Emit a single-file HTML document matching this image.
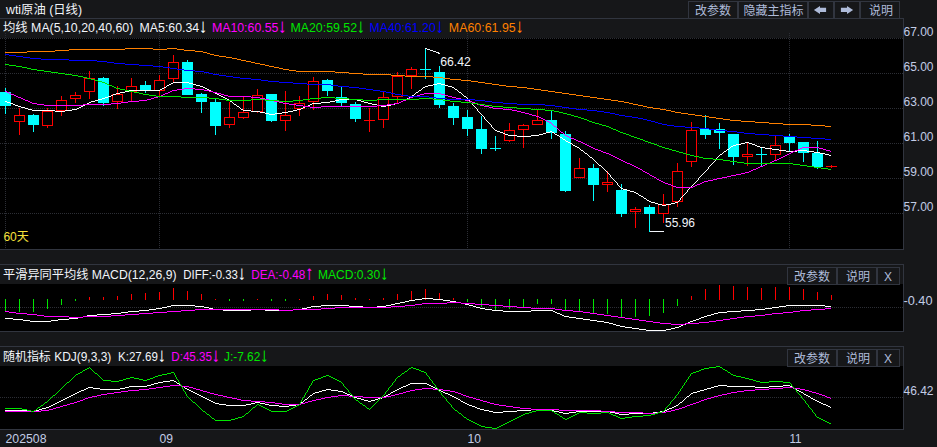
<!DOCTYPE html>
<html lang="zh-CN">
<head>
<meta charset="utf-8">
<title>wti原油 (日线)</title>
<style>
html,body{margin:0;padding:0;background:#161719;overflow:hidden;}
body{width:937px;height:447px;}
svg{display:block;position:absolute;left:0;top:0;}
text{white-space:pre;}
</style>
</head>
<body>
<svg width="937" height="447" viewBox="0 0 937 447" font-family="'Liberation Sans', 'Noto Sans CJK SC', sans-serif" shape-rendering="crispEdges">
<rect x="0" y="0" width="937" height="447" fill="#161719"/>
<rect x="0" y="38" width="903" height="211" fill="#000"/>
<rect x="0" y="284" width="903" height="47" fill="#000"/>
<rect x="0" y="366" width="903" height="63" fill="#000"/>
<rect x="0" y="18" width="904" height="1" fill="#31353f"/>
<rect x="903" y="18" width="1" height="232" fill="#31353f"/>
<rect x="0" y="249" width="904" height="1" fill="#31353f"/>
<rect x="0" y="264" width="904" height="1" fill="#31353f"/>
<rect x="903" y="264" width="1" height="68" fill="#31353f"/>
<rect x="0" y="331" width="904" height="1" fill="#31353f"/>
<rect x="0" y="346" width="904" height="1" fill="#31353f"/>
<rect x="903" y="346" width="1" height="84" fill="#31353f"/>
<rect x="0" y="429" width="904" height="1" fill="#31353f"/>
<path d="M0 38.5H903" stroke="#2c2e35" stroke-width="1" stroke-dasharray="1 1" fill="none"/>
<path d="M0 73.5H903" stroke="#2c2e35" stroke-width="1" stroke-dasharray="1 1" fill="none"/>
<path d="M0 108.5H903" stroke="#2c2e35" stroke-width="1" stroke-dasharray="1 1" fill="none"/>
<path d="M0 143.5H903" stroke="#2c2e35" stroke-width="1" stroke-dasharray="1 1" fill="none"/>
<path d="M0 178.5H903" stroke="#2c2e35" stroke-width="1" stroke-dasharray="1 1" fill="none"/>
<path d="M0 213.5H903" stroke="#2c2e35" stroke-width="1" stroke-dasharray="1 1" fill="none"/>
<path d="M0 307.5H903" stroke="#2c2e35" stroke-width="1" stroke-dasharray="1 1" fill="none"/>
<path d="M0 397.5H903" stroke="#2c2e35" stroke-width="1" stroke-dasharray="1 1" fill="none"/>
<path d="M5.5 33V249" stroke="#2c2e35" stroke-width="1" stroke-dasharray="1 1" fill="none"/>
<path d="M159.5 33V249" stroke="#2c2e35" stroke-width="1" stroke-dasharray="1 1" fill="none"/>
<path d="M467.5 33V249" stroke="#2c2e35" stroke-width="1" stroke-dasharray="1 1" fill="none"/>
<path d="M789.5 33V249" stroke="#2c2e35" stroke-width="1" stroke-dasharray="1 1" fill="none"/>
<rect x="5" y="88" width="1" height="26" fill="#00ffff"/>
<rect x="0" y="92" width="11" height="14" fill="#00ffff"/>
<rect x="19" y="108" width="1" height="7" fill="#ff0000"/>
<rect x="19" y="122" width="1" height="13" fill="#ff0000"/>
<rect x="14.5" y="115.5" width="10" height="6" fill="#000" stroke="#ff0000" stroke-width="1"/>
<rect x="33" y="114" width="1" height="18" fill="#00ffff"/>
<rect x="28" y="115" width="11" height="10" fill="#00ffff"/>
<rect x="47" y="108" width="1" height="3" fill="#ff0000"/>
<rect x="47" y="126" width="1" height="2" fill="#ff0000"/>
<rect x="42.5" y="111.5" width="10" height="14" fill="#000" stroke="#ff0000" stroke-width="1"/>
<rect x="61" y="96" width="1" height="4" fill="#ff0000"/>
<rect x="61" y="111" width="1" height="5" fill="#ff0000"/>
<rect x="56.5" y="100.5" width="10" height="10" fill="#000" stroke="#ff0000" stroke-width="1"/>
<rect x="75" y="92" width="1" height="3" fill="#ff0000"/>
<rect x="75" y="99" width="1" height="4" fill="#ff0000"/>
<rect x="70.5" y="95.5" width="10" height="3" fill="#000" stroke="#ff0000" stroke-width="1"/>
<rect x="89" y="71" width="1" height="7" fill="#ff0000"/>
<rect x="89" y="92" width="1" height="7" fill="#ff0000"/>
<rect x="84.5" y="78.5" width="10" height="13" fill="#000" stroke="#ff0000" stroke-width="1"/>
<rect x="103" y="77" width="1" height="29" fill="#00ffff"/>
<rect x="98" y="78" width="11" height="25" fill="#00ffff"/>
<rect x="117" y="86" width="1" height="8" fill="#ff0000"/>
<rect x="117" y="102" width="1" height="7" fill="#ff0000"/>
<rect x="112.5" y="94.5" width="10" height="7" fill="#000" stroke="#ff0000" stroke-width="1"/>
<rect x="131" y="78" width="1" height="8" fill="#ff0000"/>
<rect x="131" y="92" width="1" height="9" fill="#ff0000"/>
<rect x="126.5" y="86.5" width="10" height="5" fill="#000" stroke="#ff0000" stroke-width="1"/>
<rect x="145" y="81" width="1" height="12" fill="#00ffff"/>
<rect x="140" y="85" width="11" height="5" fill="#00ffff"/>
<rect x="159" y="75" width="1" height="5" fill="#ff0000"/>
<rect x="159" y="91" width="1" height="5" fill="#ff0000"/>
<rect x="154.5" y="80.5" width="10" height="10" fill="#000" stroke="#ff0000" stroke-width="1"/>
<rect x="173" y="55" width="1" height="7" fill="#ff0000"/>
<rect x="173" y="79" width="1" height="3" fill="#ff0000"/>
<rect x="168.5" y="62.5" width="10" height="16" fill="#000" stroke="#ff0000" stroke-width="1"/>
<rect x="187" y="60" width="1" height="35" fill="#00ffff"/>
<rect x="182" y="62" width="11" height="33" fill="#00ffff"/>
<rect x="201" y="93" width="1" height="20" fill="#00ffff"/>
<rect x="196" y="94" width="11" height="8" fill="#00ffff"/>
<rect x="215" y="99" width="1" height="36" fill="#00ffff"/>
<rect x="210" y="102" width="11" height="24" fill="#00ffff"/>
<rect x="229" y="102" width="1" height="15" fill="#ff0000"/>
<rect x="229" y="125" width="1" height="3" fill="#ff0000"/>
<rect x="224.5" y="117.5" width="10" height="7" fill="#000" stroke="#ff0000" stroke-width="1"/>
<rect x="243" y="97" width="1" height="15" fill="#ff0000"/>
<rect x="243" y="118" width="1" height="1" fill="#ff0000"/>
<rect x="238.5" y="112.5" width="10" height="5" fill="#000" stroke="#ff0000" stroke-width="1"/>
<rect x="257" y="89" width="1" height="6" fill="#ff0000"/>
<rect x="257" y="112" width="1" height="1" fill="#ff0000"/>
<rect x="252.5" y="95.5" width="10" height="16" fill="#000" stroke="#ff0000" stroke-width="1"/>
<rect x="271" y="94" width="1" height="28" fill="#00ffff"/>
<rect x="266" y="94" width="11" height="27" fill="#00ffff"/>
<rect x="285" y="91" width="1" height="24" fill="#ff0000"/>
<rect x="285" y="121" width="1" height="10" fill="#ff0000"/>
<rect x="280.5" y="115.5" width="10" height="5" fill="#000" stroke="#ff0000" stroke-width="1"/>
<rect x="299" y="96" width="1" height="7" fill="#ff0000"/>
<rect x="299" y="109" width="1" height="7" fill="#ff0000"/>
<rect x="294.5" y="103.5" width="10" height="5" fill="#000" stroke="#ff0000" stroke-width="1"/>
<rect x="313" y="77" width="1" height="4" fill="#ff0000"/>
<rect x="313" y="102" width="1" height="8" fill="#ff0000"/>
<rect x="308.5" y="81.5" width="10" height="20" fill="#000" stroke="#ff0000" stroke-width="1"/>
<rect x="327" y="79" width="1" height="17" fill="#00ffff"/>
<rect x="322" y="80" width="11" height="11" fill="#00ffff"/>
<rect x="341" y="87" width="1" height="19" fill="#00ffff"/>
<rect x="336" y="97" width="11" height="6" fill="#00ffff"/>
<rect x="355" y="102" width="1" height="20" fill="#00ffff"/>
<rect x="350" y="104" width="11" height="15" fill="#00ffff"/>
<rect x="369" y="108" width="1" height="24" fill="#ff0000"/>
<rect x="364" y="120" width="11" height="1" fill="#ff0000"/>
<rect x="383" y="92" width="1" height="5" fill="#ff0000"/>
<rect x="383" y="120" width="1" height="8" fill="#ff0000"/>
<rect x="378.5" y="97.5" width="10" height="22" fill="#000" stroke="#ff0000" stroke-width="1"/>
<rect x="397" y="72" width="1" height="4" fill="#ff0000"/>
<rect x="397" y="97" width="1" height="6" fill="#ff0000"/>
<rect x="392.5" y="76.5" width="10" height="20" fill="#000" stroke="#ff0000" stroke-width="1"/>
<rect x="411" y="67" width="1" height="2" fill="#ff0000"/>
<rect x="411" y="76" width="1" height="13" fill="#ff0000"/>
<rect x="406.5" y="69.5" width="10" height="6" fill="#000" stroke="#ff0000" stroke-width="1"/>
<rect x="425" y="48" width="1" height="31" fill="#00ffff"/>
<rect x="420" y="69" width="11" height="1" fill="#00ffff"/>
<rect x="439" y="66" width="1" height="42" fill="#00ffff"/>
<rect x="434" y="72" width="11" height="33" fill="#00ffff"/>
<rect x="453" y="103" width="1" height="22" fill="#00ffff"/>
<rect x="448" y="106" width="11" height="12" fill="#00ffff"/>
<rect x="467" y="110" width="1" height="26" fill="#00ffff"/>
<rect x="462" y="117" width="11" height="12" fill="#00ffff"/>
<rect x="481" y="116" width="1" height="38" fill="#00ffff"/>
<rect x="476" y="129" width="11" height="20" fill="#00ffff"/>
<rect x="495" y="136" width="1" height="15" fill="#00ffff"/>
<rect x="490" y="148" width="11" height="1" fill="#00ffff"/>
<rect x="509" y="123" width="1" height="7" fill="#ff0000"/>
<rect x="509" y="141" width="1" height="1" fill="#ff0000"/>
<rect x="504.5" y="130.5" width="10" height="10" fill="#000" stroke="#ff0000" stroke-width="1"/>
<rect x="523" y="124" width="1" height="1" fill="#ff0000"/>
<rect x="523" y="130" width="1" height="18" fill="#ff0000"/>
<rect x="518.5" y="125.5" width="10" height="4" fill="#000" stroke="#ff0000" stroke-width="1"/>
<rect x="537" y="110" width="1" height="10" fill="#ff0000"/>
<rect x="532.5" y="120.5" width="10" height="4" fill="#000" stroke="#ff0000" stroke-width="1"/>
<rect x="551" y="111" width="1" height="28" fill="#00ffff"/>
<rect x="546" y="120" width="11" height="13" fill="#00ffff"/>
<rect x="565" y="131" width="1" height="61" fill="#00ffff"/>
<rect x="560" y="134" width="11" height="57" fill="#00ffff"/>
<rect x="579" y="158" width="1" height="10" fill="#ff0000"/>
<rect x="574.5" y="168.5" width="10" height="9" fill="#000" stroke="#ff0000" stroke-width="1"/>
<rect x="593" y="164" width="1" height="37" fill="#00ffff"/>
<rect x="588" y="168" width="11" height="17" fill="#00ffff"/>
<rect x="607" y="171" width="1" height="11" fill="#ff0000"/>
<rect x="607" y="185" width="1" height="7" fill="#ff0000"/>
<rect x="602.5" y="182.5" width="10" height="2" fill="#000" stroke="#ff0000" stroke-width="1"/>
<rect x="621" y="184" width="1" height="33" fill="#00ffff"/>
<rect x="616" y="190" width="11" height="24" fill="#00ffff"/>
<rect x="635" y="207" width="1" height="2" fill="#ff0000"/>
<rect x="635" y="212" width="1" height="16" fill="#ff0000"/>
<rect x="630.5" y="209.5" width="10" height="2" fill="#000" stroke="#ff0000" stroke-width="1"/>
<rect x="649" y="205" width="1" height="27" fill="#00ffff"/>
<rect x="644" y="207" width="11" height="7" fill="#00ffff"/>
<rect x="663" y="194" width="1" height="10" fill="#ff0000"/>
<rect x="663" y="214" width="1" height="9" fill="#ff0000"/>
<rect x="658.5" y="204.5" width="10" height="9" fill="#000" stroke="#ff0000" stroke-width="1"/>
<rect x="677" y="163" width="1" height="8" fill="#ff0000"/>
<rect x="677" y="202" width="1" height="5" fill="#ff0000"/>
<rect x="672.5" y="171.5" width="10" height="30" fill="#000" stroke="#ff0000" stroke-width="1"/>
<rect x="691" y="122" width="1" height="8" fill="#ff0000"/>
<rect x="691" y="162" width="1" height="5" fill="#ff0000"/>
<rect x="686.5" y="130.5" width="10" height="31" fill="#000" stroke="#ff0000" stroke-width="1"/>
<rect x="705" y="115" width="1" height="24" fill="#00ffff"/>
<rect x="700" y="129" width="11" height="6" fill="#00ffff"/>
<rect x="719" y="123" width="1" height="26" fill="#00ffff"/>
<rect x="714" y="129" width="11" height="4" fill="#00ffff"/>
<rect x="733" y="134" width="1" height="31" fill="#00ffff"/>
<rect x="728" y="134" width="11" height="23" fill="#00ffff"/>
<rect x="747" y="143" width="1" height="11" fill="#ff0000"/>
<rect x="747" y="157" width="1" height="9" fill="#ff0000"/>
<rect x="742.5" y="154.5" width="10" height="2" fill="#000" stroke="#ff0000" stroke-width="1"/>
<rect x="761" y="148" width="1" height="18" fill="#00ffff"/>
<rect x="756" y="154" width="11" height="1" fill="#00ffff"/>
<rect x="775" y="136" width="1" height="9" fill="#ff0000"/>
<rect x="775" y="155" width="1" height="5" fill="#ff0000"/>
<rect x="770.5" y="145.5" width="10" height="9" fill="#000" stroke="#ff0000" stroke-width="1"/>
<rect x="789" y="134" width="1" height="18" fill="#00ffff"/>
<rect x="784" y="136" width="11" height="7" fill="#00ffff"/>
<rect x="803" y="142" width="1" height="20" fill="#00ffff"/>
<rect x="798" y="142" width="11" height="11" fill="#00ffff"/>
<rect x="817" y="141" width="1" height="28" fill="#00ffff"/>
<rect x="812" y="153" width="11" height="14" fill="#00ffff"/>
<rect x="831" y="165" width="1" height="3" fill="#ff0000"/>
<rect x="826" y="166" width="11" height="1" fill="#ff0000"/>
<g shape-rendering="crispEdges">
<path d="M173 82h16v1h-16zM171 83h2v1h-2zM189 83h4v1h-4zM437 83h4v1h-4zM169 84h2v1h-2zM193 84h3v1h-3zM433 84h4v1h-4zM441 84h4v1h-4zM167 85h2v1h-2zM196 85h4v1h-4zM428 85h5v1h-5zM445 85h3v1h-3zM200 86h3v1h-3zM425 86h3v1h-3zM448 86h4v1h-4zM164 87h2v1h-2zM203 87h2v1h-2zM423 87h2v1h-2zM452 87h2v1h-2zM162 88h2v1h-2zM205 88h2v1h-2zM160 89h2v1h-2zM207 89h2v1h-2zM455 89h2v1h-2zM129 90h31v1h-31zM209 90h2v1h-2zM419 90h2v1h-2zM125 91h4v1h-4zM211 91h2v1h-2zM120 92h5v1h-5zM213 92h2v1h-2zM416 92h2v1h-2zM459 92h2v1h-2zM116 93h4v1h-4zM215 93h2v1h-2zM113 94h3v1h-3zM217 94h2v1h-2zM111 95h2v1h-2zM219 95h2v1h-2zM412 95h2v1h-2zM108 96h3v1h-3zM221 96h2v1h-2zM464 96h2v1h-2zM105 97h3v1h-3zM223 97h2v1h-2zM409 97h2v1h-2zM102 98h3v1h-3zM225 98h2v1h-2zM407 98h2v1h-2zM98 99h4v1h-4zM227 99h2v1h-2zM339 99h18v1h-18zM405 99h2v1h-2zM95 100h3v1h-3zM335 100h4v1h-4zM357 100h4v1h-4zM403 100h2v1h-2zM5 101h2v1h-2zM91 101h4v1h-4zM230 101h2v1h-2zM330 101h5v1h-5zM361 101h3v1h-3zM401 101h2v1h-2zM7 102h3v1h-3zM89 102h2v1h-2zM321 102h9v1h-9zM364 102h4v1h-4zM399 102h2v1h-2zM10 103h3v1h-3zM87 103h2v1h-2zM312 103h9v1h-9zM368 103h4v1h-4zM395 103h4v1h-4zM13 104h2v1h-2zM85 104h2v1h-2zM234 104h2v1h-2zM310 104h2v1h-2zM372 104h5v1h-5zM391 104h4v1h-4zM15 105h3v1h-3zM83 105h2v1h-2zM308 105h2v1h-2zM377 105h4v1h-4zM386 105h5v1h-5zM18 106h3v1h-3zM81 106h2v1h-2zM237 106h2v1h-2zM305 106h3v1h-3zM381 106h5v1h-5zM21 107h4v1h-4zM79 107h2v1h-2zM303 107h2v1h-2zM25 108h3v1h-3zM77 108h2v1h-2zM301 108h2v1h-2zM28 109h4v1h-4zM72 109h5v1h-5zM241 109h2v1h-2zM297 109h4v1h-4zM32 110h23v1h-23zM65 110h7v1h-7zM243 110h8v1h-8zM293 110h4v1h-4zM55 111h10v1h-10zM251 111h9v1h-9zM288 111h5v1h-5zM260 112h5v1h-5zM282 112h6v1h-6zM265 113h4v1h-4zM275 113h7v1h-7zM269 114h6v1h-6zM495 130h2v1h-2zM497 131h3v1h-3zM550 131h2v1h-2zM500 132h3v1h-3zM546 132h4v1h-4zM552 132h2v1h-2zM503 133h2v1h-2zM543 133h3v1h-3zM505 134h3v1h-3zM539 134h4v1h-4zM555 134h2v1h-2zM508 135h9v1h-9zM531 135h8v1h-8zM557 135h2v1h-2zM517 136h14v1h-14zM560 137h2v1h-2zM563 139h2v1h-2zM566 141h2v1h-2zM568 142h2v1h-2zM745 142h4v1h-4zM570 143h2v1h-2zM741 143h4v1h-4zM749 143h3v1h-3zM736 144h5v1h-5zM752 144h3v1h-3zM573 145h2v1h-2zM733 145h3v1h-3zM755 145h2v1h-2zM575 146h2v1h-2zM731 146h2v1h-2zM757 146h3v1h-3zM577 147h2v1h-2zM760 147h5v1h-5zM765 148h7v1h-7zM727 149h2v1h-2zM772 149h7v1h-7zM581 150h2v1h-2zM779 150h7v1h-7zM797 150h10v1h-10zM724 151h2v1h-2zM786 151h11v1h-11zM807 151h7v1h-7zM814 152h6v1h-6zM585 153h2v1h-2zM820 153h5v1h-5zM720 154h2v1h-2zM825 154h4v1h-4zM829 155h2v1h-2zM590 157h2v1h-2zM599 165h2v1h-2zM621 188h2v1h-2zM623 189h4v1h-4zM627 190h3v1h-3zM630 191h4v1h-4zM634 192h2v1h-2zM636 193h2v1h-2zM639 195h2v1h-2zM641 196h2v1h-2zM644 198h2v1h-2zM647 200h2v1h-2zM649 201h2v1h-2zM651 202h4v1h-4zM675 202h3v1h-3zM655 203h3v1h-3zM671 203h4v1h-4zM658 204h4v1h-4zM666 204h5v1h-5zM662 205h4v1h-4zM166 86h1v1h-1zM229 100h1v1h-1zM232 102h1v1h-1zM233 103h1v1h-1zM236 105h1v1h-1zM239 107h1v1h-1zM240 108h1v1h-1zM411 96h1v1h-1zM414 94h1v1h-1zM415 93h1v1h-1zM418 91h1v1h-1zM421 89h1v1h-1zM422 88h1v1h-1zM454 88h1v1h-1zM457 90h1v1h-1zM458 91h1v1h-1zM461 93h1v1h-1zM462 94h1v1h-1zM463 95h1v1h-1zM466 97h1v1h-1zM467 98h1v1h-1zM468 99h1v1h-1zM469 100h1v1h-1zM470 101h1v2h-1zM471 103h1v1h-1zM472 104h1v1h-1zM473 105h1v1h-1zM474 106h1v1h-1zM475 107h1v1h-1zM476 108h1v1h-1zM477 109h1v2h-1zM478 111h1v1h-1zM479 112h1v1h-1zM480 113h1v1h-1zM481 114h1v1h-1zM482 115h1v1h-1zM483 116h1v1h-1zM484 117h1v2h-1zM485 119h1v1h-1zM486 120h1v1h-1zM487 121h1v1h-1zM488 122h1v1h-1zM489 123h1v1h-1zM490 124h1v1h-1zM491 125h1v2h-1zM492 127h1v1h-1zM493 128h1v1h-1zM494 129h1v1h-1zM554 133h1v1h-1zM559 136h1v1h-1zM562 138h1v1h-1zM565 140h1v1h-1zM572 144h1v1h-1zM579 148h1v1h-1zM580 149h1v1h-1zM583 151h1v1h-1zM584 152h1v1h-1zM587 154h1v1h-1zM588 155h1v1h-1zM589 156h1v1h-1zM592 158h1v1h-1zM593 159h1v1h-1zM594 160h1v1h-1zM595 161h1v1h-1zM596 162h1v1h-1zM597 163h1v1h-1zM598 164h1v1h-1zM601 166h1v1h-1zM602 167h1v1h-1zM603 168h1v1h-1zM604 169h1v1h-1zM605 170h1v1h-1zM606 171h1v1h-1zM607 172h1v1h-1zM608 173h1v1h-1zM609 174h1v1h-1zM610 175h1v2h-1zM611 177h1v1h-1zM612 178h1v1h-1zM613 179h1v1h-1zM614 180h1v1h-1zM615 181h1v1h-1zM616 182h1v1h-1zM617 183h1v2h-1zM618 185h1v1h-1zM619 186h1v1h-1zM620 187h1v1h-1zM638 194h1v1h-1zM643 197h1v1h-1zM646 199h1v1h-1zM678 201h1v1h-1zM679 200h1v1h-1zM680 198h1v2h-1zM681 197h1v1h-1zM682 196h1v1h-1zM683 195h1v1h-1zM684 194h1v1h-1zM685 193h1v1h-1zM686 192h1v1h-1zM687 190h1v2h-1zM688 189h1v1h-1zM689 188h1v1h-1zM690 187h1v1h-1zM691 186h1v1h-1zM692 185h1v1h-1zM693 184h1v1h-1zM694 183h1v1h-1zM695 182h1v1h-1zM696 181h1v1h-1zM697 180h1v1h-1zM698 178h1v2h-1zM699 177h1v1h-1zM700 176h1v1h-1zM701 175h1v1h-1zM702 174h1v1h-1zM703 173h1v1h-1zM704 172h1v1h-1zM705 171h1v1h-1zM706 170h1v1h-1zM707 169h1v1h-1zM708 167h1v2h-1zM709 166h1v1h-1zM710 165h1v1h-1zM711 164h1v1h-1zM712 163h1v1h-1zM713 162h1v1h-1zM714 161h1v1h-1zM715 159h1v2h-1zM716 158h1v1h-1zM717 157h1v1h-1zM718 156h1v1h-1zM719 155h1v1h-1zM722 153h1v1h-1zM723 152h1v1h-1zM726 150h1v1h-1zM729 148h1v1h-1zM730 147h1v1h-1z" fill="#ffffff"/>
<path d="M184 88h11v1h-11zM177 89h7v1h-7zM195 89h9v1h-9zM172 90h5v1h-5zM204 90h5v1h-5zM5 91h2v1h-2zM170 91h2v1h-2zM209 91h4v1h-4zM7 92h2v1h-2zM168 92h2v1h-2zM213 92h4v1h-4zM9 93h2v1h-2zM165 93h3v1h-3zM217 93h4v1h-4zM424 93h17v1h-17zM11 94h3v1h-3zM163 94h2v1h-2zM221 94h3v1h-3zM420 94h4v1h-4zM441 94h4v1h-4zM14 95h2v1h-2zM161 95h2v1h-2zM224 95h4v1h-4zM417 95h3v1h-3zM445 95h3v1h-3zM16 96h2v1h-2zM158 96h3v1h-3zM228 96h23v1h-23zM413 96h4v1h-4zM448 96h4v1h-4zM18 97h3v1h-3zM154 97h4v1h-4zM251 97h9v1h-9zM410 97h3v1h-3zM452 97h4v1h-4zM21 98h2v1h-2zM151 98h3v1h-3zM260 98h5v1h-5zM408 98h2v1h-2zM456 98h5v1h-5zM23 99h2v1h-2zM147 99h4v1h-4zM265 99h4v1h-4zM406 99h2v1h-2zM461 99h4v1h-4zM25 100h3v1h-3zM139 100h8v1h-8zM269 100h5v1h-5zM403 100h3v1h-3zM465 100h4v1h-4zM28 101h2v1h-2zM128 101h11v1h-11zM274 101h5v1h-5zM401 101h2v1h-2zM469 101h3v1h-3zM30 102h2v1h-2zM121 102h7v1h-7zM279 102h4v1h-4zM399 102h2v1h-2zM472 102h3v1h-3zM32 103h5v1h-5zM111 103h10v1h-10zM283 103h6v1h-6zM394 103h5v1h-5zM475 103h2v1h-2zM37 104h7v1h-7zM83 104h28v1h-28zM289 104h7v1h-7zM387 104h7v1h-7zM477 104h3v1h-3zM44 105h39v1h-39zM296 105h7v1h-7zM377 105h10v1h-10zM480 105h4v1h-4zM303 106h7v1h-7zM321 106h56v1h-56zM484 106h5v1h-5zM310 107h11v1h-11zM489 107h4v1h-4zM493 108h10v1h-10zM503 109h9v1h-9zM512 110h5v1h-5zM517 111h4v1h-4zM521 112h4v1h-4zM525 113h4v1h-4zM529 114h3v1h-3zM532 115h4v1h-4zM536 116h3v1h-3zM539 117h2v1h-2zM541 118h2v1h-2zM543 119h2v1h-2zM545 120h2v1h-2zM547 121h2v1h-2zM549 122h2v1h-2zM554 126h2v1h-2zM561 132h2v1h-2zM565 135h2v1h-2zM567 136h2v1h-2zM569 137h2v1h-2zM571 138h3v1h-3zM574 139h2v1h-2zM576 140h2v1h-2zM578 141h3v1h-3zM581 142h2v1h-2zM583 143h2v1h-2zM585 144h2v1h-2zM587 145h2v1h-2zM589 146h2v1h-2zM591 147h2v1h-2zM802 147h17v1h-17zM593 148h2v1h-2zM800 148h2v1h-2zM819 148h4v1h-4zM595 149h3v1h-3zM798 149h2v1h-2zM823 149h3v1h-3zM598 150h3v1h-3zM795 150h3v1h-3zM826 150h4v1h-4zM601 151h2v1h-2zM793 151h2v1h-2zM603 152h3v1h-3zM791 152h2v1h-2zM606 153h3v1h-3zM789 153h2v1h-2zM609 154h2v1h-2zM787 154h2v1h-2zM611 155h2v1h-2zM785 155h2v1h-2zM613 156h2v1h-2zM783 156h2v1h-2zM615 157h2v1h-2zM781 157h2v1h-2zM617 158h2v1h-2zM779 158h2v1h-2zM619 159h2v1h-2zM777 159h2v1h-2zM621 160h2v1h-2zM774 160h3v1h-3zM623 161h2v1h-2zM772 161h2v1h-2zM625 162h2v1h-2zM770 162h2v1h-2zM627 163h3v1h-3zM767 163h3v1h-3zM630 164h2v1h-2zM765 164h2v1h-2zM632 165h2v1h-2zM763 165h2v1h-2zM634 166h2v1h-2zM760 166h3v1h-3zM636 167h2v1h-2zM758 167h2v1h-2zM638 168h2v1h-2zM756 168h2v1h-2zM640 169h2v1h-2zM753 169h3v1h-3zM751 170h2v1h-2zM643 171h2v1h-2zM749 171h2v1h-2zM645 172h2v1h-2zM745 172h4v1h-4zM647 173h2v1h-2zM741 173h4v1h-4zM736 174h5v1h-5zM650 175h2v1h-2zM731 175h5v1h-5zM652 176h2v1h-2zM727 176h4v1h-4zM654 177h2v1h-2zM722 177h5v1h-5zM717 178h5v1h-5zM657 179h2v1h-2zM713 179h4v1h-4zM659 180h2v1h-2zM708 180h5v1h-5zM661 181h2v1h-2zM704 181h4v1h-4zM663 182h2v1h-2zM702 182h2v1h-2zM665 183h3v1h-3zM700 183h2v1h-2zM668 184h3v1h-3zM697 184h3v1h-3zM671 185h2v1h-2zM695 185h2v1h-2zM673 186h3v1h-3zM693 186h2v1h-2zM676 187h17v1h-17zM551 123h1v1h-1zM552 124h1v1h-1zM553 125h1v1h-1zM556 127h1v1h-1zM557 128h1v1h-1zM558 129h1v1h-1zM559 130h1v1h-1zM560 131h1v1h-1zM563 133h1v1h-1zM564 134h1v1h-1zM642 170h1v1h-1zM649 174h1v1h-1zM656 178h1v1h-1zM830 151h1v1h-1z" fill="#ff00ff"/>
<path d="M5 64h4v1h-4zM9 65h7v1h-7zM16 66h6v1h-6zM22 67h5v1h-5zM27 68h4v1h-4zM31 69h6v1h-6zM37 70h7v1h-7zM44 71h7v1h-7zM51 72h7v1h-7zM58 73h7v1h-7zM65 74h7v1h-7zM72 75h6v1h-6zM78 76h5v1h-5zM83 77h4v1h-4zM87 78h4v1h-4zM91 79h4v1h-4zM95 80h3v1h-3zM98 81h4v1h-4zM102 82h3v1h-3zM105 83h2v1h-2zM107 84h2v1h-2zM109 85h3v1h-3zM112 86h2v1h-2zM114 87h2v1h-2zM116 88h4v1h-4zM120 89h5v1h-5zM125 90h4v1h-4zM129 91h5v1h-5zM134 92h5v1h-5zM139 93h4v1h-4zM143 94h6v1h-6zM149 95h7v1h-7zM156 96h25v1h-25zM181 97h28v1h-28zM321 97h14v1h-14zM209 98h10v1h-10zM310 98h11v1h-11zM335 98h14v1h-14zM419 98h14v1h-14zM219 99h7v1h-7zM251 99h14v1h-14zM303 99h7v1h-7zM349 99h14v1h-14zM377 99h42v1h-42zM433 99h10v1h-10zM226 100h25v1h-25zM265 100h14v1h-14zM293 100h10v1h-10zM363 100h14v1h-14zM443 100h7v1h-7zM279 101h14v1h-14zM450 101h11v1h-11zM461 102h10v1h-10zM471 103h7v1h-7zM478 104h7v1h-7zM485 105h7v1h-7zM492 106h11v1h-11zM503 107h14v1h-14zM517 108h14v1h-14zM531 109h14v1h-14zM545 110h9v1h-9zM554 111h5v1h-5zM559 112h4v1h-4zM563 113h4v1h-4zM567 114h4v1h-4zM571 115h3v1h-3zM574 116h4v1h-4zM578 117h3v1h-3zM581 118h3v1h-3zM584 119h3v1h-3zM587 120h2v1h-2zM589 121h3v1h-3zM592 122h3v1h-3zM595 123h4v1h-4zM599 124h3v1h-3zM602 125h4v1h-4zM606 126h3v1h-3zM609 127h2v1h-2zM611 128h2v1h-2zM613 129h3v1h-3zM616 130h2v1h-2zM618 131h2v1h-2zM620 132h3v1h-3zM623 133h3v1h-3zM626 134h3v1h-3zM629 135h2v1h-2zM631 136h3v1h-3zM634 137h3v1h-3zM637 138h3v1h-3zM640 139h3v1h-3zM643 140h2v1h-2zM645 141h3v1h-3zM648 142h3v1h-3zM651 143h3v1h-3zM654 144h3v1h-3zM657 145h2v1h-2zM659 146h3v1h-3zM662 147h3v1h-3zM665 148h4v1h-4zM669 149h3v1h-3zM672 150h4v1h-4zM676 151h3v1h-3zM679 152h4v1h-4zM683 153h3v1h-3zM686 154h4v1h-4zM690 155h4v1h-4zM694 156h5v1h-5zM699 157h4v1h-4zM703 158h10v1h-10zM713 159h10v1h-10zM723 160h7v1h-7zM730 161h7v1h-7zM737 162h7v1h-7zM744 163h49v1h-49zM793 164h7v1h-7zM800 165h7v1h-7zM807 166h7v1h-7zM814 167h7v1h-7zM821 168h7v1h-7zM828 169h3v1h-3z" fill="#00e600"/>
<path d="M5 54h4v1h-4zM9 55h7v1h-7zM16 56h7v1h-7zM23 57h7v1h-7zM30 58h11v1h-11zM41 59h28v1h-28zM69 60h28v1h-28zM97 61h10v1h-10zM107 62h7v1h-7zM114 63h11v1h-11zM125 64h14v1h-14zM139 65h14v1h-14zM153 66h10v1h-10zM163 67h7v1h-7zM170 68h7v1h-7zM177 69h7v1h-7zM184 70h11v1h-11zM195 71h9v1h-9zM204 72h5v1h-5zM209 73h4v1h-4zM213 74h6v1h-6zM219 75h7v1h-7zM226 76h7v1h-7zM233 77h7v1h-7zM240 78h11v1h-11zM251 79h10v1h-10zM261 80h7v1h-7zM268 81h11v1h-11zM279 82h14v1h-14zM293 83h14v1h-14zM307 84h24v1h-24zM331 85h7v1h-7zM338 86h11v1h-11zM349 87h10v1h-10zM359 88h7v1h-7zM366 89h7v1h-7zM373 90h7v1h-7zM380 91h6v1h-6zM386 92h5v1h-5zM391 93h4v1h-4zM395 94h6v1h-6zM401 95h7v1h-7zM408 96h21v1h-21zM429 97h7v1h-7zM436 98h11v1h-11zM447 99h28v1h-28zM475 100h10v1h-10zM485 101h7v1h-7zM492 102h11v1h-11zM503 103h14v1h-14zM517 104h28v1h-28zM545 105h10v1h-10zM555 106h7v1h-7zM562 107h7v1h-7zM569 108h7v1h-7zM576 109h11v1h-11zM587 110h10v1h-10zM597 111h7v1h-7zM604 112h6v1h-6zM610 113h5v1h-5zM615 114h4v1h-4zM619 115h6v1h-6zM625 116h7v1h-7zM632 117h6v1h-6zM638 118h5v1h-5zM643 119h4v1h-4zM647 120h4v1h-4zM651 121h4v1h-4zM655 122h3v1h-3zM658 123h4v1h-4zM662 124h5v1h-5zM667 125h7v1h-7zM674 126h11v1h-11zM685 127h14v1h-14zM699 128h10v1h-10zM709 129h7v1h-7zM716 130h11v1h-11zM727 131h10v1h-10zM737 132h7v1h-7zM744 133h11v1h-11zM755 134h14v1h-14zM769 135h14v1h-14zM783 136h14v1h-14zM797 137h14v1h-14zM811 138h14v1h-14zM825 139h6v1h-6z" fill="#0000ff"/>
<path d="M125 48h28v1h-28zM167 48h10v1h-10zM69 49h56v1h-56zM153 49h14v1h-14zM177 49h7v1h-7zM55 50h14v1h-14zM184 50h11v1h-11zM27 51h28v1h-28zM195 51h8v1h-8zM5 52h22v1h-22zM203 52h4v1h-4zM207 53h3v1h-3zM210 54h4v1h-4zM214 55h5v1h-5zM219 56h7v1h-7zM226 57h6v1h-6zM232 58h5v1h-5zM237 59h4v1h-4zM241 60h5v1h-5zM246 61h5v1h-5zM251 62h4v1h-4zM255 63h5v1h-5zM260 64h5v1h-5zM265 65h4v1h-4zM269 66h5v1h-5zM274 67h5v1h-5zM279 68h4v1h-4zM283 69h6v1h-6zM289 70h7v1h-7zM296 71h39v1h-39zM335 72h14v1h-14zM349 73h14v1h-14zM363 74h28v1h-28zM391 75h14v1h-14zM405 76h28v1h-28zM433 77h10v1h-10zM443 78h7v1h-7zM450 79h11v1h-11zM461 80h10v1h-10zM471 81h7v1h-7zM478 82h7v1h-7zM485 83h7v1h-7zM492 84h7v1h-7zM499 85h7v1h-7zM506 86h11v1h-11zM517 87h10v1h-10zM527 88h7v1h-7zM534 89h7v1h-7zM541 90h7v1h-7zM548 91h7v1h-7zM555 92h7v1h-7zM562 93h7v1h-7zM569 94h7v1h-7zM576 95h7v1h-7zM583 96h7v1h-7zM590 97h7v1h-7zM597 98h7v1h-7zM604 99h7v1h-7zM611 100h7v1h-7zM618 101h6v1h-6zM624 102h5v1h-5zM629 103h4v1h-4zM633 104h5v1h-5zM638 105h5v1h-5zM643 106h4v1h-4zM647 107h6v1h-6zM653 108h7v1h-7zM660 109h6v1h-6zM666 110h5v1h-5zM671 111h4v1h-4zM675 112h6v1h-6zM681 113h7v1h-7zM688 114h7v1h-7zM695 115h7v1h-7zM702 116h7v1h-7zM709 117h7v1h-7zM716 118h7v1h-7zM723 119h7v1h-7zM730 120h11v1h-11zM741 121h14v1h-14zM755 122h14v1h-14zM769 123h14v1h-14zM783 124h28v1h-28zM811 125h14v1h-14zM825 126h6v1h-6z" fill="#ff8000"/>
</g>
<path d="M425.5 48.5L440 53.5" stroke="#f2f5fa" stroke-width="1" fill="none"/>
<text x="440.2" y="66" fill="#f2f5fa" font-size="12" textLength="30.6" lengthAdjust="spacingAndGlyphs">66.42</text>
<path d="M649.5 231.5H664" stroke="#f2f5fa" stroke-width="1" fill="none"/>
<text x="665" y="227" fill="#f2f5fa" font-size="12" textLength="30" lengthAdjust="spacingAndGlyphs">55.96</text>
<text x="3.4" y="240.6" fill="#f8e23c" font-size="12" textLength="25.5" lengthAdjust="spacingAndGlyphs">60天</text>
<rect x="5" y="299" width="1" height="13" fill="#00e600"/>
<rect x="19" y="299" width="1" height="13" fill="#00e600"/>
<rect x="33" y="299" width="1" height="13" fill="#00e600"/>
<rect x="47" y="299" width="1" height="10" fill="#00e600"/>
<rect x="61" y="299" width="1" height="6" fill="#00e600"/>
<rect x="75" y="299" width="1" height="2" fill="#00e600"/>
<rect x="89" y="297" width="1" height="3" fill="#ff0000"/>
<rect x="103" y="297" width="1" height="3" fill="#ff0000"/>
<rect x="117" y="296" width="1" height="4" fill="#ff0000"/>
<rect x="131" y="294" width="1" height="6" fill="#ff0000"/>
<rect x="145" y="293" width="1" height="7" fill="#ff0000"/>
<rect x="159" y="292" width="1" height="8" fill="#ff0000"/>
<rect x="173" y="288" width="1" height="12" fill="#ff0000"/>
<rect x="187" y="291" width="1" height="9" fill="#ff0000"/>
<rect x="201" y="294" width="1" height="6" fill="#ff0000"/>
<rect x="215" y="299" width="1" height="1" fill="#ff0000"/>
<rect x="229" y="299" width="1" height="2" fill="#00e600"/>
<rect x="243" y="299" width="1" height="2" fill="#00e600"/>
<rect x="257" y="299" width="1" height="1" fill="#ff0000"/>
<rect x="271" y="299" width="1" height="2" fill="#00e600"/>
<rect x="285" y="299" width="1" height="2" fill="#00e600"/>
<rect x="299" y="299" width="1" height="1" fill="#ff0000"/>
<rect x="313" y="296" width="1" height="4" fill="#ff0000"/>
<rect x="327" y="294" width="1" height="6" fill="#ff0000"/>
<rect x="341" y="295" width="1" height="5" fill="#ff0000"/>
<rect x="355" y="298" width="1" height="2" fill="#ff0000"/>
<rect x="369" y="299" width="1" height="1" fill="#ff0000"/>
<rect x="383" y="298" width="1" height="2" fill="#ff0000"/>
<rect x="397" y="294" width="1" height="6" fill="#ff0000"/>
<rect x="411" y="291" width="1" height="9" fill="#ff0000"/>
<rect x="425" y="289" width="1" height="11" fill="#ff0000"/>
<rect x="439" y="293" width="1" height="7" fill="#ff0000"/>
<rect x="453" y="298" width="1" height="2" fill="#ff0000"/>
<rect x="467" y="299" width="1" height="3" fill="#00e600"/>
<rect x="481" y="299" width="1" height="8" fill="#00e600"/>
<rect x="495" y="299" width="1" height="11" fill="#00e600"/>
<rect x="509" y="299" width="1" height="10" fill="#00e600"/>
<rect x="523" y="299" width="1" height="8" fill="#00e600"/>
<rect x="537" y="299" width="1" height="5" fill="#00e600"/>
<rect x="551" y="299" width="1" height="5" fill="#00e600"/>
<rect x="565" y="299" width="1" height="12" fill="#00e600"/>
<rect x="579" y="299" width="1" height="13" fill="#00e600"/>
<rect x="593" y="299" width="1" height="15" fill="#00e600"/>
<rect x="607" y="299" width="1" height="15" fill="#00e600"/>
<rect x="621" y="299" width="1" height="18" fill="#00e600"/>
<rect x="635" y="299" width="1" height="18" fill="#00e600"/>
<rect x="649" y="299" width="1" height="17" fill="#00e600"/>
<rect x="663" y="299" width="1" height="14" fill="#00e600"/>
<rect x="677" y="299" width="1" height="7" fill="#00e600"/>
<rect x="691" y="296" width="1" height="4" fill="#ff0000"/>
<rect x="705" y="289" width="1" height="11" fill="#ff0000"/>
<rect x="719" y="285" width="1" height="15" fill="#ff0000"/>
<rect x="733" y="286" width="1" height="14" fill="#ff0000"/>
<rect x="747" y="287" width="1" height="13" fill="#ff0000"/>
<rect x="761" y="288" width="1" height="12" fill="#ff0000"/>
<rect x="775" y="287" width="1" height="13" fill="#ff0000"/>
<rect x="789" y="287" width="1" height="13" fill="#ff0000"/>
<rect x="803" y="289" width="1" height="11" fill="#ff0000"/>
<rect x="817" y="292" width="1" height="8" fill="#ff0000"/>
<rect x="831" y="295" width="1" height="5" fill="#ff0000"/>
<path d="M422 298h11v1h-11zM415 299h7v1h-7zM433 299h10v1h-10zM409 300h6v1h-6zM443 300h7v1h-7zM405 301h4v1h-4zM450 301h6v1h-6zM400 302h5v1h-5zM456 302h5v1h-5zM395 303h5v1h-5zM461 303h4v1h-4zM391 304h4v1h-4zM465 304h4v1h-4zM171 305h24v1h-24zM321 305h28v1h-28zM386 305h5v1h-5zM469 305h4v1h-4zM786 305h39v1h-39zM167 306h4v1h-4zM195 306h9v1h-9zM311 306h10v1h-10zM349 306h14v1h-14zM377 306h9v1h-9zM473 306h3v1h-3zM779 306h7v1h-7zM825 306h6v1h-6zM162 307h5v1h-5zM204 307h5v1h-5zM307 307h4v1h-4zM363 307h14v1h-14zM476 307h4v1h-4zM772 307h7v1h-7zM156 308h6v1h-6zM209 308h4v1h-4zM302 308h5v1h-5zM480 308h5v1h-5zM765 308h7v1h-7zM149 309h7v1h-7zM213 309h10v1h-10zM251 309h14v1h-14zM293 309h9v1h-9zM485 309h7v1h-7zM755 309h10v1h-10zM139 310h10v1h-10zM223 310h28v1h-28zM265 310h28v1h-28zM492 310h11v1h-11zM531 310h22v1h-22zM741 310h14v1h-14zM128 311h11v1h-11zM503 311h28v1h-28zM553 311h2v1h-2zM727 311h14v1h-14zM121 312h7v1h-7zM555 312h2v1h-2zM718 312h9v1h-9zM111 313h10v1h-10zM557 313h3v1h-3zM714 313h4v1h-4zM97 314h14v1h-14zM560 314h2v1h-2zM711 314h3v1h-3zM87 315h10v1h-10zM562 315h2v1h-2zM707 315h4v1h-4zM83 316h4v1h-4zM564 316h5v1h-5zM704 316h3v1h-3zM78 317h5v1h-5zM569 317h7v1h-7zM701 317h3v1h-3zM5 318h8v1h-8zM69 318h9v1h-9zM576 318h7v1h-7zM699 318h2v1h-2zM13 319h10v1h-10zM58 319h11v1h-11zM583 319h7v1h-7zM696 319h3v1h-3zM23 320h7v1h-7zM51 320h7v1h-7zM590 320h7v1h-7zM693 320h3v1h-3zM30 321h21v1h-21zM597 321h7v1h-7zM690 321h3v1h-3zM604 322h5v1h-5zM688 322h2v1h-2zM609 323h4v1h-4zM686 323h2v1h-2zM613 324h3v1h-3zM683 324h3v1h-3zM616 325h4v1h-4zM681 325h2v1h-2zM620 326h5v1h-5zM679 326h2v1h-2zM625 327h7v1h-7zM675 327h4v1h-4zM632 328h7v1h-7zM671 328h4v1h-4zM639 329h7v1h-7zM666 329h5v1h-5zM646 330h20v1h-20z" fill="#ffffff"/>
<path d="M447 302h14v1h-14zM422 303h25v1h-25zM461 303h14v1h-14zM415 304h7v1h-7zM475 304h14v1h-14zM405 305h10v1h-10zM489 305h14v1h-14zM391 306h14v1h-14zM503 306h14v1h-14zM335 307h56v1h-56zM517 307h14v1h-14zM321 308h14v1h-14zM531 308h24v1h-24zM825 308h6v1h-6zM195 309h84v1h-84zM293 309h28v1h-28zM555 309h7v1h-7zM811 309h14v1h-14zM181 310h14v1h-14zM279 310h14v1h-14zM562 310h11v1h-11zM800 310h11v1h-11zM5 311h4v1h-4zM167 311h14v1h-14zM573 311h10v1h-10zM793 311h7v1h-7zM9 312h7v1h-7zM153 312h14v1h-14zM583 312h7v1h-7zM783 312h10v1h-10zM16 313h11v1h-11zM139 313h14v1h-14zM590 313h7v1h-7zM772 313h11v1h-11zM27 314h10v1h-10zM125 314h14v1h-14zM597 314h7v1h-7zM765 314h7v1h-7zM37 315h7v1h-7zM111 315h14v1h-14zM604 315h7v1h-7zM755 315h10v1h-10zM44 316h25v1h-25zM83 316h28v1h-28zM611 316h7v1h-7zM744 316h11v1h-11zM69 317h14v1h-14zM618 317h7v1h-7zM737 317h7v1h-7zM625 318h7v1h-7zM730 318h7v1h-7zM632 319h7v1h-7zM723 319h7v1h-7zM639 320h7v1h-7zM716 320h7v1h-7zM646 321h7v1h-7zM709 321h7v1h-7zM653 322h7v1h-7zM699 322h10v1h-10zM660 323h11v1h-11zM685 323h14v1h-14zM671 324h14v1h-14z" fill="#ff00ff"/>
<path d="M170 380h4v1h-4zM163 381h7v1h-7zM174 381h2v1h-2zM158 382h5v1h-5zM154 383h4v1h-4zM177 383h2v1h-2zM410 383h17v1h-17zM151 384h3v1h-3zM179 384h2v1h-2zM408 384h2v1h-2zM427 384h2v1h-2zM147 385h4v1h-4zM406 385h2v1h-2zM429 385h2v1h-2zM718 385h9v1h-9zM783 385h7v1h-7zM129 386h18v1h-18zM182 386h2v1h-2zM403 386h3v1h-3zM431 386h2v1h-2zM714 386h4v1h-4zM727 386h28v1h-28zM769 386h14v1h-14zM790 386h2v1h-2zM88 387h5v1h-5zM125 387h4v1h-4zM401 387h2v1h-2zM433 387h2v1h-2zM711 387h3v1h-3zM755 387h14v1h-14zM792 387h2v1h-2zM86 388h2v1h-2zM93 388h7v1h-7zM120 388h5v1h-5zM185 388h2v1h-2zM399 388h2v1h-2zM435 388h2v1h-2zM707 388h4v1h-4zM794 388h2v1h-2zM84 389h2v1h-2zM100 389h20v1h-20zM187 389h2v1h-2zM326 389h5v1h-5zM397 389h2v1h-2zM437 389h2v1h-2zM704 389h3v1h-3zM81 390h3v1h-3zM189 390h2v1h-2zM322 390h4v1h-4zM331 390h7v1h-7zM395 390h2v1h-2zM439 390h2v1h-2zM700 390h4v1h-4zM797 390h2v1h-2zM79 391h2v1h-2zM191 391h2v1h-2zM319 391h3v1h-3zM338 391h5v1h-5zM393 391h2v1h-2zM441 391h2v1h-2zM697 391h3v1h-3zM799 391h2v1h-2zM77 392h2v1h-2zM193 392h2v1h-2zM315 392h4v1h-4zM343 392h2v1h-2zM391 392h2v1h-2zM443 392h2v1h-2zM693 392h4v1h-4zM801 392h2v1h-2zM75 393h2v1h-2zM195 393h2v1h-2zM313 393h2v1h-2zM345 393h2v1h-2zM445 393h3v1h-3zM691 393h2v1h-2zM73 394h2v1h-2zM197 394h2v1h-2zM347 394h3v1h-3zM388 394h2v1h-2zM448 394h2v1h-2zM804 394h2v1h-2zM71 395h2v1h-2zM199 395h2v1h-2zM310 395h2v1h-2zM350 395h2v1h-2zM386 395h2v1h-2zM450 395h2v1h-2zM806 395h2v1h-2zM69 396h2v1h-2zM201 396h2v1h-2zM352 396h2v1h-2zM384 396h2v1h-2zM452 396h2v1h-2zM687 396h2v1h-2zM808 396h2v1h-2zM67 397h2v1h-2zM203 397h2v1h-2zM354 397h3v1h-3zM382 397h2v1h-2zM454 397h2v1h-2zM65 398h2v1h-2zM205 398h2v1h-2zM357 398h4v1h-4zM378 398h4v1h-4zM456 398h2v1h-2zM811 398h2v1h-2zM63 399h2v1h-2zM207 399h2v1h-2zM305 399h2v1h-2zM361 399h3v1h-3zM375 399h3v1h-3zM458 399h2v1h-2zM813 399h2v1h-2zM61 400h2v1h-2zM209 400h2v1h-2zM364 400h4v1h-4zM371 400h4v1h-4zM815 400h2v1h-2zM59 401h2v1h-2zM211 401h2v1h-2zM368 401h3v1h-3zM461 401h2v1h-2zM817 401h2v1h-2zM57 402h2v1h-2zM213 402h2v1h-2zM255 402h5v1h-5zM301 402h2v1h-2zM463 402h2v1h-2zM680 402h2v1h-2zM819 402h2v1h-2zM55 403h2v1h-2zM215 403h4v1h-4zM251 403h4v1h-4zM260 403h5v1h-5zM465 403h2v1h-2zM821 403h2v1h-2zM53 404h2v1h-2zM219 404h7v1h-7zM246 404h5v1h-5zM265 404h4v1h-4zM296 404h4v1h-4zM467 404h2v1h-2zM823 404h3v1h-3zM51 405h2v1h-2zM226 405h20v1h-20zM269 405h10v1h-10zM289 405h7v1h-7zM469 405h3v1h-3zM676 405h2v1h-2zM826 405h2v1h-2zM49 406h2v1h-2zM279 406h10v1h-10zM472 406h3v1h-3zM674 406h2v1h-2zM828 406h2v1h-2zM46 407h3v1h-3zM475 407h2v1h-2zM672 407h2v1h-2zM42 408h4v1h-4zM477 408h3v1h-3zM669 408h3v1h-3zM39 409h3v1h-3zM480 409h4v1h-4zM531 409h14v1h-14zM667 409h2v1h-2zM5 410h22v1h-22zM35 410h4v1h-4zM484 410h5v1h-5zM517 410h14v1h-14zM545 410h9v1h-9zM665 410h2v1h-2zM27 411h8v1h-8zM489 411h4v1h-4zM503 411h14v1h-14zM554 411h5v1h-5zM576 411h34v1h-34zM660 411h5v1h-5zM493 412h10v1h-10zM559 412h4v1h-4zM569 412h7v1h-7zM610 412h5v1h-5zM653 412h7v1h-7zM563 413h6v1h-6zM615 413h4v1h-4zM629 413h24v1h-24zM619 414h10v1h-10zM176 382h1v1h-1zM181 385h1v1h-1zM184 387h1v1h-1zM300 403h1v1h-1zM303 401h1v1h-1zM304 400h1v1h-1zM307 398h1v1h-1zM308 397h1v1h-1zM309 396h1v1h-1zM312 394h1v1h-1zM390 393h1v1h-1zM460 400h1v1h-1zM678 404h1v1h-1zM679 403h1v1h-1zM682 401h1v1h-1zM683 400h1v1h-1zM684 399h1v1h-1zM685 398h1v1h-1zM686 397h1v1h-1zM689 395h1v1h-1zM690 394h1v1h-1zM796 389h1v1h-1zM803 393h1v1h-1zM810 397h1v1h-1zM830 407h1v1h-1z" fill="#ffffff"/>
<path d="M170 385h11v1h-11zM163 386h7v1h-7zM181 386h8v1h-8zM156 387h7v1h-7zM189 387h4v1h-4zM783 387h10v1h-10zM149 388h7v1h-7zM193 388h3v1h-3zM422 388h11v1h-11zM769 388h14v1h-14zM793 388h7v1h-7zM139 389h10v1h-10zM196 389h4v1h-4zM415 389h7v1h-7zM433 389h10v1h-10zM755 389h14v1h-14zM800 389h5v1h-5zM128 390h11v1h-11zM200 390h3v1h-3zM410 390h5v1h-5zM443 390h7v1h-7zM744 390h11v1h-11zM805 390h4v1h-4zM121 391h7v1h-7zM203 391h4v1h-4zM406 391h4v1h-4zM450 391h5v1h-5zM737 391h7v1h-7zM809 391h3v1h-3zM114 392h7v1h-7zM207 392h3v1h-3zM403 392h3v1h-3zM455 392h3v1h-3zM731 392h6v1h-6zM812 392h4v1h-4zM107 393h7v1h-7zM210 393h4v1h-4zM399 393h4v1h-4zM458 393h3v1h-3zM727 393h4v1h-4zM816 393h3v1h-3zM101 394h6v1h-6zM214 394h4v1h-4zM395 394h4v1h-4zM461 394h2v1h-2zM722 394h5v1h-5zM819 394h3v1h-3zM97 395h4v1h-4zM218 395h5v1h-5zM338 395h11v1h-11zM391 395h4v1h-4zM463 395h3v1h-3zM718 395h4v1h-4zM822 395h3v1h-3zM92 396h5v1h-5zM223 396h4v1h-4zM331 396h7v1h-7zM349 396h14v1h-14zM386 396h5v1h-5zM466 396h3v1h-3zM714 396h4v1h-4zM825 396h2v1h-2zM88 397h4v1h-4zM227 397h5v1h-5zM325 397h6v1h-6zM363 397h23v1h-23zM469 397h4v1h-4zM711 397h3v1h-3zM827 397h3v1h-3zM85 398h3v1h-3zM232 398h5v1h-5zM321 398h4v1h-4zM473 398h3v1h-3zM707 398h4v1h-4zM83 399h2v1h-2zM237 399h4v1h-4zM316 399h5v1h-5zM476 399h4v1h-4zM704 399h3v1h-3zM80 400h3v1h-3zM241 400h10v1h-10zM312 400h4v1h-4zM480 400h3v1h-3zM701 400h3v1h-3zM77 401h3v1h-3zM251 401h14v1h-14zM308 401h4v1h-4zM483 401h4v1h-4zM699 401h2v1h-2zM74 402h3v1h-3zM265 402h10v1h-10zM305 402h3v1h-3zM487 402h3v1h-3zM696 402h3v1h-3zM70 403h4v1h-4zM275 403h7v1h-7zM301 403h4v1h-4zM490 403h4v1h-4zM693 403h3v1h-3zM67 404h3v1h-3zM282 404h19v1h-19zM494 404h5v1h-5zM690 404h3v1h-3zM63 405h4v1h-4zM499 405h7v1h-7zM687 405h3v1h-3zM60 406h3v1h-3zM506 406h7v1h-7zM685 406h2v1h-2zM56 407h4v1h-4zM513 407h7v1h-7zM682 407h3v1h-3zM53 408h3v1h-3zM520 408h11v1h-11zM679 408h3v1h-3zM49 409h4v1h-4zM531 409h28v1h-28zM675 409h4v1h-4zM41 410h8v1h-8zM559 410h42v1h-42zM671 410h4v1h-4zM5 411h36v1h-36zM601 411h14v1h-14zM666 411h5v1h-5zM615 412h28v1h-28zM657 412h9v1h-9zM643 413h14v1h-14zM830 398h1v1h-1z" fill="#ff00ff"/>
<path d="M716 366h4v1h-4zM411 367h2v1h-2zM709 367h7v1h-7zM720 367h2v1h-2zM87 368h2v1h-2zM409 368h2v1h-2zM413 368h3v1h-3zM704 368h5v1h-5zM85 369h2v1h-2zM416 369h3v1h-3zM701 369h3v1h-3zM723 369h2v1h-2zM83 370h2v1h-2zM419 370h2v1h-2zM699 370h2v1h-2zM725 370h2v1h-2zM405 371h2v1h-2zM421 371h3v1h-3zM696 371h3v1h-3zM80 372h2v1h-2zM171 372h3v1h-3zM424 372h2v1h-2zM693 372h3v1h-3zM728 372h2v1h-2zM78 373h2v1h-2zM95 373h2v1h-2zM167 373h4v1h-4zM402 373h2v1h-2zM691 373h2v1h-2zM76 374h2v1h-2zM162 374h5v1h-5zM731 374h2v1h-2zM158 375h4v1h-4zM326 375h3v1h-3zM733 375h3v1h-3zM155 376h3v1h-3zM323 376h3v1h-3zM329 376h2v1h-2zM398 376h2v1h-2zM736 376h5v1h-5zM130 377h4v1h-4zM153 377h2v1h-2zM321 377h2v1h-2zM331 377h2v1h-2zM741 377h4v1h-4zM126 378h4v1h-4zM134 378h5v1h-5zM150 378h3v1h-3zM318 378h3v1h-3zM333 378h2v1h-2zM745 378h4v1h-4zM123 379h3v1h-3zM139 379h4v1h-4zM147 379h3v1h-3zM315 379h3v1h-3zM335 379h2v1h-2zM749 379h4v1h-4zM103 380h8v1h-8zM119 380h4v1h-4zM143 380h4v1h-4zM313 380h2v1h-2zM337 380h2v1h-2zM753 380h3v1h-3zM111 381h8v1h-8zM339 381h2v1h-2zM756 381h4v1h-4zM769 381h14v1h-14zM67 382h2v1h-2zM760 382h9v1h-9zM783 382h7v1h-7zM53 395h2v1h-2zM356 400h2v1h-2zM45 402h2v1h-2zM193 402h2v1h-2zM360 403h2v1h-2zM257 404h2v1h-2zM41 405h2v1h-2zM259 405h2v1h-2zM297 405h2v1h-2zM363 405h2v1h-2zM261 406h2v1h-2zM295 406h2v1h-2zM38 407h2v1h-2zM253 407h2v1h-2zM263 407h2v1h-2zM293 407h2v1h-2zM5 408h17v1h-17zM265 408h2v1h-2zM291 408h2v1h-2zM367 408h2v1h-2zM22 409h5v1h-5zM267 409h2v1h-2zM289 409h2v1h-2zM27 410h4v1h-4zM34 410h2v1h-2zM269 410h2v1h-2zM287 410h2v1h-2zM455 410h2v1h-2zM536 410h16v1h-16zM31 411h3v1h-3zM203 411h2v1h-2zM271 411h16v1h-16zM532 411h4v1h-4zM552 411h2v1h-2zM662 411h2v1h-2zM529 412h3v1h-3zM579 412h8v1h-8zM601 412h8v1h-8zM658 412h4v1h-4zM246 413h2v1h-2zM459 413h2v1h-2zM525 413h4v1h-4zM555 413h2v1h-2zM577 413h2v1h-2zM587 413h14v1h-14zM609 413h2v1h-2zM655 413h3v1h-3zM207 414h2v1h-2zM523 414h2v1h-2zM557 414h2v1h-2zM575 414h2v1h-2zM611 414h2v1h-2zM651 414h4v1h-4zM521 415h2v1h-2zM573 415h2v1h-2zM613 415h3v1h-3zM643 415h8v1h-8zM242 416h2v1h-2zM519 416h2v1h-2zM560 416h2v1h-2zM571 416h2v1h-2zM616 416h2v1h-2zM632 416h11v1h-11zM238 417h4v1h-4zM464 417h2v1h-2zM517 417h2v1h-2zM569 417h2v1h-2zM618 417h2v1h-2zM625 417h7v1h-7zM817 417h2v1h-2zM212 418h2v1h-2zM235 418h3v1h-3zM515 418h2v1h-2zM563 418h2v1h-2zM567 418h2v1h-2zM620 418h5v1h-5zM819 418h2v1h-2zM231 419h4v1h-4zM467 419h2v1h-2zM513 419h2v1h-2zM565 419h2v1h-2zM821 419h2v1h-2zM215 420h16v1h-16zM469 420h2v1h-2zM511 420h2v1h-2zM823 420h2v1h-2zM471 421h2v1h-2zM509 421h2v1h-2zM825 421h2v1h-2zM473 422h2v1h-2zM507 422h2v1h-2zM827 422h2v1h-2zM475 423h2v1h-2zM505 423h2v1h-2zM829 423h2v1h-2zM477 424h2v1h-2zM503 424h2v1h-2zM479 425h2v1h-2zM501 425h2v1h-2zM481 426h4v1h-4zM499 426h2v1h-2zM485 427h7v1h-7zM497 427h2v1h-2zM492 428h5v1h-5zM36 409h1v1h-1zM37 408h1v1h-1zM40 406h1v1h-1zM43 404h1v1h-1zM44 403h1v1h-1zM47 401h1v1h-1zM48 400h1v1h-1zM49 399h1v1h-1zM50 398h1v1h-1zM51 397h1v1h-1zM52 396h1v1h-1zM55 394h1v1h-1zM56 393h1v1h-1zM57 392h1v1h-1zM58 391h1v1h-1zM59 390h1v1h-1zM60 389h1v1h-1zM61 388h1v1h-1zM62 387h1v1h-1zM63 386h1v1h-1zM64 385h1v1h-1zM65 384h1v1h-1zM66 383h1v1h-1zM69 381h1v1h-1zM70 380h1v1h-1zM71 379h1v1h-1zM72 378h1v1h-1zM73 377h1v1h-1zM74 376h1v1h-1zM75 375h1v1h-1zM82 371h1v1h-1zM89 367h1v1h-1zM90 368h1v1h-1zM91 369h1v1h-1zM92 370h1v1h-1zM93 371h1v1h-1zM94 372h1v1h-1zM97 374h1v1h-1zM98 375h1v1h-1zM99 376h1v1h-1zM100 377h1v1h-1zM101 378h1v1h-1zM102 379h1v1h-1zM174 373h1v2h-1zM175 375h1v2h-1zM176 377h1v2h-1zM177 379h1v1h-1zM178 380h1v2h-1zM179 382h1v2h-1zM180 384h1v1h-1zM181 385h1v2h-1zM182 387h1v2h-1zM183 389h1v2h-1zM184 391h1v1h-1zM185 392h1v2h-1zM186 394h1v2h-1zM187 396h1v1h-1zM188 397h1v1h-1zM189 398h1v1h-1zM190 399h1v1h-1zM191 400h1v1h-1zM192 401h1v1h-1zM195 403h1v1h-1zM196 404h1v1h-1zM197 405h1v1h-1zM198 406h1v1h-1zM199 407h1v1h-1zM200 408h1v1h-1zM201 409h1v1h-1zM202 410h1v1h-1zM205 412h1v1h-1zM206 413h1v1h-1zM209 415h1v1h-1zM210 416h1v1h-1zM211 417h1v1h-1zM214 419h1v1h-1zM244 415h1v1h-1zM245 414h1v1h-1zM248 412h1v1h-1zM249 411h1v1h-1zM250 410h1v1h-1zM251 409h1v1h-1zM252 408h1v1h-1zM255 406h1v1h-1zM256 405h1v1h-1zM299 404h1v1h-1zM300 402h1v2h-1zM301 400h1v2h-1zM302 398h1v2h-1zM303 397h1v1h-1zM304 395h1v2h-1zM305 393h1v2h-1zM306 392h1v1h-1zM307 390h1v2h-1zM308 388h1v2h-1zM309 386h1v2h-1zM310 385h1v1h-1zM311 383h1v2h-1zM312 381h1v2h-1zM341 382h1v1h-1zM342 383h1v1h-1zM343 384h1v2h-1zM344 386h1v1h-1zM345 387h1v1h-1zM346 388h1v1h-1zM347 389h1v1h-1zM348 390h1v2h-1zM349 392h1v1h-1zM350 393h1v1h-1zM351 394h1v1h-1zM352 395h1v1h-1zM353 396h1v2h-1zM354 398h1v1h-1zM355 399h1v1h-1zM358 401h1v1h-1zM359 402h1v1h-1zM362 404h1v1h-1zM365 406h1v1h-1zM366 407h1v1h-1zM369 409h1v1h-1zM370 408h1v1h-1zM371 407h1v1h-1zM372 406h1v1h-1zM373 405h1v1h-1zM374 404h1v1h-1zM375 403h1v1h-1zM376 402h1v1h-1zM377 401h1v1h-1zM378 400h1v1h-1zM379 399h1v1h-1zM380 398h1v1h-1zM381 397h1v1h-1zM382 396h1v1h-1zM383 395h1v1h-1zM384 394h1v1h-1zM385 392h1v2h-1zM386 391h1v1h-1zM387 390h1v1h-1zM388 388h1v2h-1zM389 387h1v1h-1zM390 386h1v1h-1zM391 385h1v1h-1zM392 383h1v2h-1zM393 382h1v1h-1zM394 381h1v1h-1zM395 379h1v2h-1zM396 378h1v1h-1zM397 377h1v1h-1zM400 375h1v1h-1zM401 374h1v1h-1zM404 372h1v1h-1zM407 370h1v1h-1zM408 369h1v1h-1zM426 373h1v2h-1zM427 375h1v1h-1zM428 376h1v1h-1zM429 377h1v2h-1zM430 379h1v1h-1zM431 380h1v1h-1zM432 381h1v2h-1zM433 383h1v1h-1zM434 384h1v1h-1zM435 385h1v2h-1zM436 387h1v1h-1zM437 388h1v1h-1zM438 389h1v2h-1zM439 391h1v1h-1zM440 392h1v1h-1zM441 393h1v2h-1zM442 395h1v1h-1zM443 396h1v1h-1zM444 397h1v1h-1zM445 398h1v1h-1zM446 399h1v2h-1zM447 401h1v1h-1zM448 402h1v1h-1zM449 403h1v1h-1zM450 404h1v1h-1zM451 405h1v2h-1zM452 407h1v1h-1zM453 408h1v1h-1zM454 409h1v1h-1zM457 411h1v1h-1zM458 412h1v1h-1zM461 414h1v1h-1zM462 415h1v1h-1zM463 416h1v1h-1zM466 418h1v1h-1zM554 412h1v1h-1zM559 415h1v1h-1zM562 417h1v1h-1zM664 410h1v1h-1zM665 408h1v2h-1zM666 407h1v1h-1zM667 406h1v1h-1zM668 405h1v1h-1zM669 404h1v1h-1zM670 402h1v2h-1zM671 401h1v1h-1zM672 400h1v1h-1zM673 399h1v1h-1zM674 398h1v1h-1zM675 396h1v2h-1zM676 395h1v1h-1zM677 394h1v1h-1zM678 392h1v2h-1zM679 391h1v1h-1zM680 389h1v2h-1zM681 388h1v1h-1zM682 386h1v2h-1zM683 385h1v1h-1zM684 383h1v2h-1zM685 382h1v1h-1zM686 380h1v2h-1zM687 379h1v1h-1zM688 377h1v2h-1zM689 376h1v1h-1zM690 374h1v2h-1zM722 368h1v1h-1zM727 371h1v1h-1zM730 373h1v1h-1zM790 383h1v1h-1zM791 384h1v2h-1zM792 386h1v1h-1zM793 387h1v1h-1zM794 388h1v1h-1zM795 389h1v1h-1zM796 390h1v2h-1zM797 392h1v1h-1zM798 393h1v1h-1zM799 394h1v1h-1zM800 395h1v1h-1zM801 396h1v2h-1zM802 398h1v1h-1zM803 399h1v1h-1zM804 400h1v1h-1zM805 401h1v2h-1zM806 403h1v1h-1zM807 404h1v1h-1zM808 405h1v2h-1zM809 407h1v1h-1zM810 408h1v1h-1zM811 409h1v1h-1zM812 410h1v2h-1zM813 412h1v1h-1zM814 413h1v1h-1zM815 414h1v2h-1zM816 416h1v1h-1z" fill="#00e600"/>
<text x="6" y="14" fill="#f2f5fa" font-size="12" textLength="76" lengthAdjust="spacingAndGlyphs">wti原油 (日线)</text>
<text x="3" y="32" fill="#f2f5fa" font-size="12" textLength="130.3" lengthAdjust="spacingAndGlyphs">均线 MA(5,10,20,40,60)</text>
<text x="139.6" y="32" fill="#f2f5fa" font-size="12" textLength="59.6" lengthAdjust="spacingAndGlyphs">MA5:60.34</text>
<text x="203.1" y="31.2" fill="#f2f5fa" font-size="11" text-anchor="middle" font-family="NanumGothic, 'Liberation Sans', sans-serif" stroke="#f2f5fa" stroke-width="0.5">↓</text>
<text x="211.9" y="32" fill="#ff00ff" font-size="12" textLength="66.5" lengthAdjust="spacingAndGlyphs">MA10:60.55</text>
<text x="282.3" y="31.2" fill="#ff00ff" font-size="11" text-anchor="middle" font-family="NanumGothic, 'Liberation Sans', sans-serif" stroke="#ff00ff" stroke-width="0.5">↓</text>
<text x="290.5" y="32" fill="#00e600" font-size="12" textLength="66.5" lengthAdjust="spacingAndGlyphs">MA20:59.52</text>
<text x="360.9" y="31.2" fill="#00e600" font-size="11" text-anchor="middle" font-family="NanumGothic, 'Liberation Sans', sans-serif" stroke="#00e600" stroke-width="0.5">↓</text>
<text x="369.5" y="32" fill="#0000ff" font-size="12" textLength="66.3" lengthAdjust="spacingAndGlyphs">MA40:61.20</text>
<text x="439.7" y="31.2" fill="#0000ff" font-size="11" text-anchor="middle" font-family="NanumGothic, 'Liberation Sans', sans-serif" stroke="#0000ff" stroke-width="0.5">↓</text>
<text x="448.8" y="32" fill="#ff8000" font-size="12" textLength="66.9" lengthAdjust="spacingAndGlyphs">MA60:61.95</text>
<text x="519.6" y="31.2" fill="#ff8000" font-size="11" text-anchor="middle" font-family="NanumGothic, 'Liberation Sans', sans-serif" stroke="#ff8000" stroke-width="0.5">↓</text>
<text x="3" y="278.5" fill="#f2f5fa" font-size="12" textLength="173.6" lengthAdjust="spacingAndGlyphs">平滑异同平均线 MACD(12,26,9)</text>
<text x="183.3" y="278.5" fill="#f2f5fa" font-size="12" textLength="54.6" lengthAdjust="spacingAndGlyphs">DIFF:-0.33</text>
<text x="241.8" y="277.7" fill="#f2f5fa" font-size="11" text-anchor="middle" font-family="NanumGothic, 'Liberation Sans', sans-serif" stroke="#f2f5fa" stroke-width="0.5">↓</text>
<text x="251.3" y="278.5" fill="#ff00ff" font-size="12" textLength="54.0" lengthAdjust="spacingAndGlyphs">DEA:-0.48</text>
<text x="309.2" y="277.7" fill="#ff00ff" font-size="11" text-anchor="middle" font-family="NanumGothic, 'Liberation Sans', sans-serif" stroke="#ff00ff" stroke-width="0.5">↑</text>
<text x="317.9" y="278.5" fill="#00e600" font-size="12" textLength="62.3" lengthAdjust="spacingAndGlyphs">MACD:0.30</text>
<text x="384.2" y="277.7" fill="#00e600" font-size="11" text-anchor="middle" font-family="NanumGothic, 'Liberation Sans', sans-serif" stroke="#00e600" stroke-width="0.5">↓</text>
<text x="3" y="360.5" fill="#f2f5fa" font-size="12" textLength="108.3" lengthAdjust="spacingAndGlyphs">随机指标 KDJ(9,3,3)</text>
<text x="118" y="360.5" fill="#f2f5fa" font-size="12" textLength="39.9" lengthAdjust="spacingAndGlyphs">K:27.69</text>
<text x="161.8" y="359.7" fill="#f2f5fa" font-size="11" text-anchor="middle" font-family="NanumGothic, 'Liberation Sans', sans-serif" stroke="#f2f5fa" stroke-width="0.5">↓</text>
<text x="171.3" y="360.5" fill="#ff00ff" font-size="12" textLength="40.6" lengthAdjust="spacingAndGlyphs">D:45.35</text>
<text x="215.8" y="359.7" fill="#ff00ff" font-size="11" text-anchor="middle" font-family="NanumGothic, 'Liberation Sans', sans-serif" stroke="#ff00ff" stroke-width="0.5">↓</text>
<text x="224.1" y="360.5" fill="#00e600" font-size="12" textLength="36.2" lengthAdjust="spacingAndGlyphs">J:-7.62</text>
<text x="264.2" y="359.7" fill="#00e600" font-size="11" text-anchor="middle" font-family="NanumGothic, 'Liberation Sans', sans-serif" stroke="#00e600" stroke-width="0.5">↓</text>
<text x="903.5" y="36" fill="#c3cde6" font-size="12" textLength="30" lengthAdjust="spacingAndGlyphs">67.00</text>
<text x="903.5" y="71" fill="#c3cde6" font-size="12" textLength="30" lengthAdjust="spacingAndGlyphs">65.00</text>
<text x="903.5" y="106" fill="#c3cde6" font-size="12" textLength="30" lengthAdjust="spacingAndGlyphs">63.00</text>
<text x="903.5" y="141" fill="#c3cde6" font-size="12" textLength="30" lengthAdjust="spacingAndGlyphs">61.00</text>
<text x="903.5" y="176" fill="#c3cde6" font-size="12" textLength="30" lengthAdjust="spacingAndGlyphs">59.00</text>
<text x="903.5" y="211" fill="#c3cde6" font-size="12" textLength="30" lengthAdjust="spacingAndGlyphs">57.00</text>
<text x="903.5" y="305" fill="#c3cde6" font-size="12" textLength="29" lengthAdjust="spacingAndGlyphs">-0.40</text>
<text x="903.5" y="395" fill="#c3cde6" font-size="12" textLength="30" lengthAdjust="spacingAndGlyphs">46.42</text>
<text x="5.5" y="443" fill="#c3cde6" font-size="12" textLength="41" lengthAdjust="spacingAndGlyphs">202508</text>
<text x="159.5" y="443" fill="#c3cde6" font-size="12" textLength="13.5" lengthAdjust="spacingAndGlyphs">09</text>
<text x="467.5" y="443" fill="#c3cde6" font-size="12" textLength="13.5" lengthAdjust="spacingAndGlyphs">10</text>
<text x="789.5" y="443" fill="#c3cde6" font-size="12" textLength="12" lengthAdjust="spacingAndGlyphs">11</text>
<rect x="688.5" y="1.5" width="49" height="17" fill="#161719" stroke="#31353f" stroke-width="1"/>
<text x="695" y="14.6" fill="#aebbd9" font-size="12">改参数</text>
<rect x="738.5" y="1.5" width="69" height="17" fill="#161719" stroke="#31353f" stroke-width="1"/>
<text x="743.5" y="14.6" fill="#aebbd9" font-size="12">隐藏主指标</text>
<rect x="808.5" y="1.5" width="25" height="17" fill="#161719" stroke="#31353f" stroke-width="1"/>
<rect x="834.5" y="1.5" width="25" height="17" fill="#161719" stroke="#31353f" stroke-width="1"/>
<rect x="860.5" y="1.5" width="39" height="17" fill="#161719" stroke="#31353f" stroke-width="1"/>
<text x="869" y="14.6" fill="#aebbd9" font-size="12">说明</text>
<path d="M813.9 9.9L820 5.9V7.7H826.1V12.1H820V13.9Z" fill="#aebbd9" shape-rendering="geometricPrecision"/>
<path d="M853.1 9.9L847 5.9V7.7H840.9V12.1H847V13.9Z" fill="#aebbd9" shape-rendering="geometricPrecision"/>
<rect x="787.5" y="267.5" width="49" height="17" fill="#161719" stroke="#31353f" stroke-width="1"/>
<text x="794" y="280.6" fill="#aebbd9" font-size="12">改参数</text>
<rect x="837.5" y="267.5" width="39" height="17" fill="#161719" stroke="#31353f" stroke-width="1"/>
<text x="846" y="280.6" fill="#aebbd9" font-size="12">说明</text>
<rect x="877.5" y="267.5" width="22" height="17" fill="#161719" stroke="#31353f" stroke-width="1"/>
<text x="884" y="280.6" fill="#aebbd9" font-size="12" textLength="8" lengthAdjust="spacingAndGlyphs">X</text>
<rect x="787.5" y="349.5" width="49" height="17" fill="#161719" stroke="#31353f" stroke-width="1"/>
<text x="794" y="362.6" fill="#aebbd9" font-size="12">改参数</text>
<rect x="837.5" y="349.5" width="39" height="17" fill="#161719" stroke="#31353f" stroke-width="1"/>
<text x="846" y="362.6" fill="#aebbd9" font-size="12">说明</text>
<rect x="877.5" y="349.5" width="22" height="17" fill="#161719" stroke="#31353f" stroke-width="1"/>
<text x="884" y="362.6" fill="#aebbd9" font-size="12" textLength="8" lengthAdjust="spacingAndGlyphs">X</text>
</svg>
</body>
</html>
